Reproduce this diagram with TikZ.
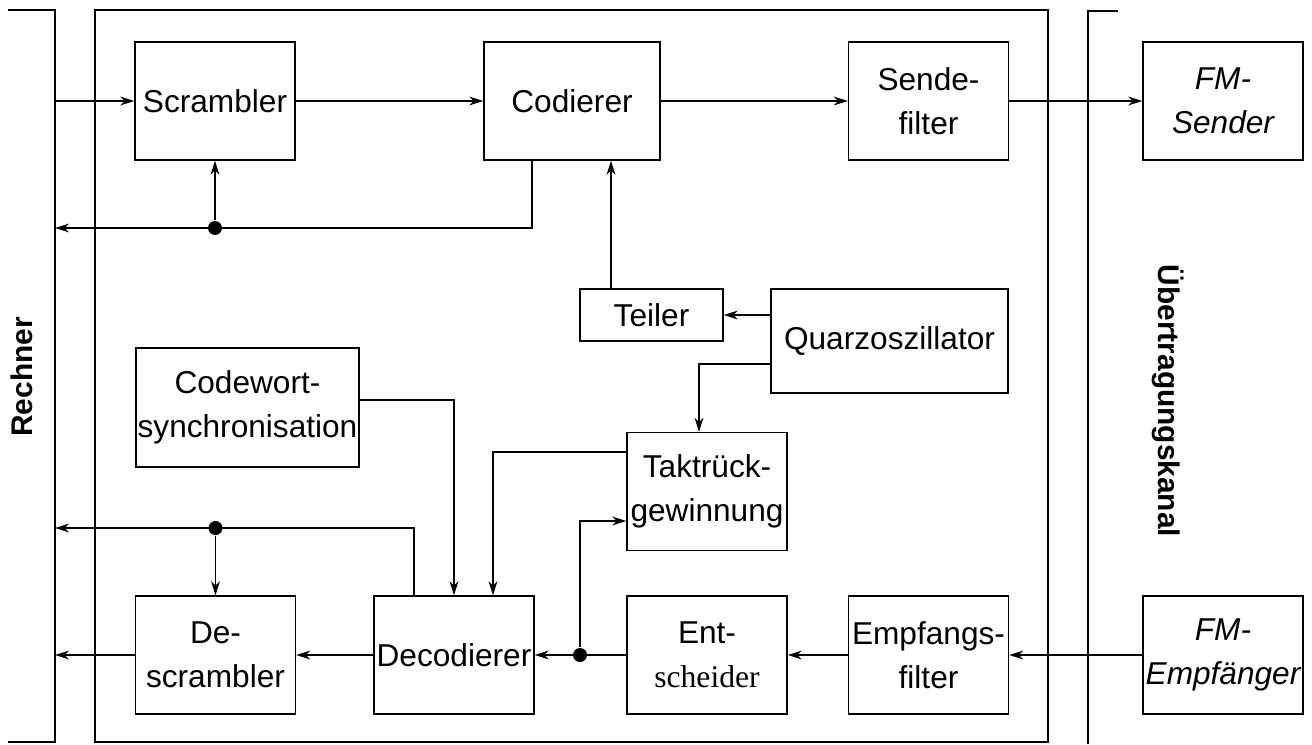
\documentclass[tikz,border=0pt]{standalone}
\usepackage{fontspec}
\setmainfont{Liberation Sans}
\newfontfamily\timesfont{Liberation Serif}
\usepackage{tikz}
\usetikzlibrary{arrows, arrows.meta, positioning}

\begin{document}
\begin{tikzpicture}[x=0.02cm, y=-0.02cm, line width=0.8pt,
  >={Stealth[length=8pt, width=5pt, inset=2.5pt]},
  block/.style={draw, align=center, inner sep=0pt, minimum width=3.2cm,
    minimum height=2.36cm, font=\fontsize{18}{25}\selectfont},
  dot/.style={circle, fill, inner sep=0pt, minimum size=0.28cm},
  side/.style={font=\fontsize{17}{20}\selectfont\bfseries}]
\useasboundingbox (0,0) rectangle (1312,744);

% frames
\coordinate (R1) at (55,10);
\coordinate (R2) at (55,742);
\draw (8,10) -- (R1) -- (R2) -- (8,742);
\draw (95,10) rectangle (1048,742);
\draw (1118,11) -- (1088,11) -- (1088,744);
\draw (22,377) node[side, rotate=90] (Rn) {Rechner};
\draw (1168,401) node[side, rotate=-90] (Uk) {Übertragungskanal};

\node[block] (Scr) at (215,101) {Scrambler};
\node[block, minimum width=3.52cm] (Cod) at (572,101) {Codierer};
\node[block] (Sf) at (928.5,101) {Sende-\\filter};
\node[block, font=\fontsize{18}{25}\selectfont\itshape] (FMS) at (1223,101) {FM-\\Sender};
\node[block, minimum width=2.86cm, minimum height=1.04cm] (Tl) at (651.5,315) {Teiler};
\node[block, minimum width=4.74cm, minimum height=2.08cm] (Qz) at (889.5,341) {Quarzoszillator};
\node[block, minimum width=4.46cm, minimum height=2.38cm] (Cw) at (247.5,407.5) {Codewort-\\synchronisation};
\node[block] (Tr) at (707,491.5) {Taktrück-\\gewinnung};
\node[block] (Ds) at (215.5,655) {De-\\scrambler};
\node[block] (Dc) at (454,655) {Decodierer};
\node[block] (Es) at (707,655) {Ent-\\{\timesfont scheider}};
\node[block] (Ef) at (928.5,655) {Empfangs-\\filter};
\node[block, font=\fontsize{18}{25}\selectfont\itshape] (FME) at (1223,655) {FM-\\Empfänger};

\node[dot] (J1) at (215,228) {};
\node[dot] (J2) at (215.5,528) {};
\node[dot] (J3) at (580,655) {};

% send path
\draw[->] (R1 |- Scr.west) -- (Scr.west);
\draw[->] (Scr.east) -- (Cod.west);
\draw[->] (Cod.east) -- (Sf.west);
\draw[->] (Sf.east) -- (FMS.west);
\draw[->] ([xshift=-0.8cm]Cod.south) |- (R1 |- J1);
\draw[->] (J1) -- (Scr.south);

% clock
\coordinate (T1) at ([xshift=0.78cm]Cod.south);
\draw[->] (T1 |- Tl.north) -- (T1);
\draw[->] (Tl.east -| Qz.west) -- (Tl.east);
\draw[->] ([yshift=-0.46cm]Qz.west) -| ([xshift=-0.16cm]Tr.north);
\draw[->] ([yshift=0.79cm]Tr.west) -| ([xshift=0.78cm]Dc.north);
\draw[->] ([yshift=0.15cm]Cw.east) -| (Dc.north);

% receive path
\draw[->] (FME.west) -- (Ef.east);
\draw[->] (Ef.west) -- (Es.east);
\draw[->] (Es.west) -- (Dc.east);
\draw[->] (J3) |- ([yshift=-0.59cm]Tr.west);
\draw[->] (Dc.west) -- (Ds.east);
\draw[->] (Ds.west) -- (R1 |- Ds.west);
\draw[->] ([xshift=-0.8cm]Dc.north) |- (R1 |- J2);
\draw[->] (J2) -- (Ds.north);
%
\end{tikzpicture}
\end{document}
